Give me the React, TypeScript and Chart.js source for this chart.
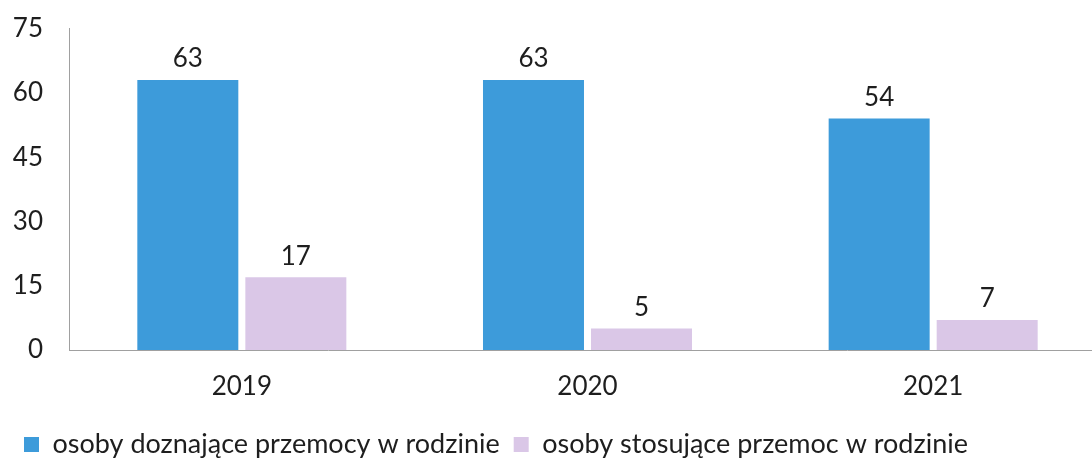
import React, { useEffect, useRef } from "react";
import { Chart, registerables } from "chart.js";

Chart.register(...registerables);

const categories = ["2019", "2020", "2021"];
const victims = [63, 63, 54];
const perpetrators = [17, 5, 7];
const seriesNames = [
  "osoby doznające przemocy w rodzinie",
  "osoby stosujące przemoc w rodzinie",
];
const yTicks = [0, 15, 30, 45, 60, 75];

const FONT = "Lato, 'Open Sans', sans-serif";
const TEXT = "#1e1e1e";

const valueLabels = {
  id: "valueLabels",
  afterDatasetsDraw(chart: any) {
    const ctx = chart.ctx;
    ctx.save();
    ctx.font = `26px ${FONT}`;
    ctx.fillStyle = TEXT;
    ctx.textAlign = "center";
    ctx.textBaseline = "middle";
    chart.data.datasets.forEach((ds: any, i: number) => {
      const meta = chart.getDatasetMeta(i);
      meta.data.forEach((el: any, j: number) => {
        ctx.fillText(String(ds.data[j]), el.x, el.y - 21);
      });
    });
    ctx.restore();
  },
};

export default function App() {
  const ref = useRef<HTMLCanvasElement | null>(null);
  useEffect(() => {
    if (!ref.current) return;
    const chart = new Chart(ref.current, {
      type: "bar",
      data: {
        labels: categories,
        datasets: [
          {
            label: seriesNames[0],
            data: victims,
            backgroundColor: "#3d9bda",
            categoryPercentage: 0.625,
            barPercentage: 0.935,
          },
          {
            label: seriesNames[1],
            data: perpetrators,
            backgroundColor: "#dac7e7",
            categoryPercentage: 0.625,
            barPercentage: 0.935,
          },
        ],
      },
      options: {
        responsive: false,
        animation: false,
        layout: { padding: { left: 10, top: 4, right: 0, bottom: 0 } },
        plugins: {
          legend: {
            position: "bottom",
            align: "start",
            labels: {
              boxWidth: 15,
              boxHeight: 15,
              padding: 14,
              color: TEXT,
              font: { family: FONT, size: 27 },
            },
          },
          tooltip: { enabled: false },
        },
        scales: {
          x: {
            grid: { display: false, drawTicks: false },
            border: { display: true, color: "#a0a0a0", width: 1 },
            afterFit: (scale: any) => {
              scale.height = 67;
            },
            ticks: {
              color: TEXT,
              font: { family: FONT, size: 26 },
              padding: 21,
            },
          },
          y: {
            min: 0,
            max: 75,
            afterFit: (scale: any) => {
              scale.width = 59;
            },
            afterBuildTicks: (scale: any) => {
              scale.ticks = yTicks.map((v) => ({ value: v }));
            },
            grid: { display: false, drawTicks: false },
            border: { display: true, color: "#a0a0a0", width: 1 },
            ticks: {
              color: TEXT,
              font: { family: FONT, size: 26 },
              padding: 26,
            },
          },
        },
      },
      plugins: [valueLabels],
    });
    return () => chart.destroy();
  }, []);
  return (
    <div
      style={{
        position: "fixed",
        left: 0,
        top: 0,
        width: 1092,
        height: 458,
        overflow: "hidden",
        background: "#fff",
      }}
    >
      <canvas
        ref={ref}
        width={1106}
        height={481}
        style={{ display: "block", position: "absolute", left: 0, top: -13 }}
      />
    </div>
  );
}
